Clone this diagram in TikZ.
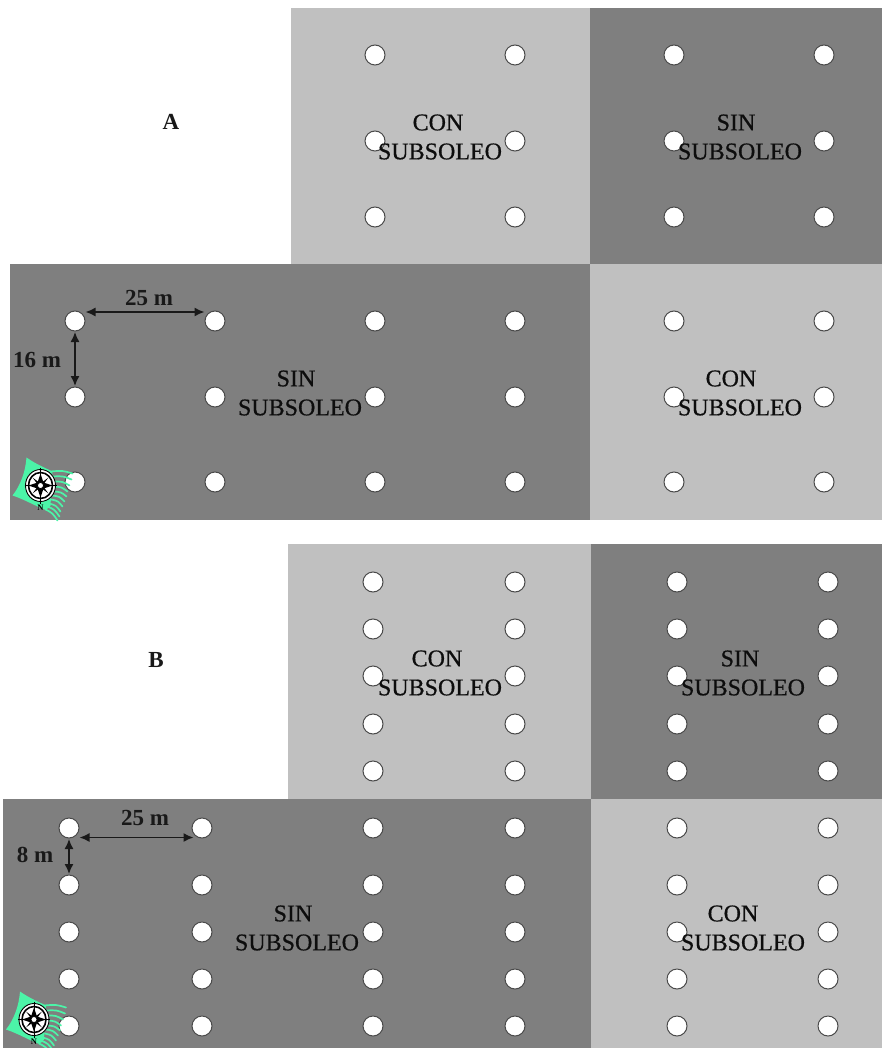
\documentclass[tikz,border=0pt]{standalone}
\usepackage{fontspec}
\setmainfont{Liberation Serif}
\newfontfamily\zonefont[FakeBold=0.6]{Liberation Serif}
\definecolor{lightzone}{HTML}{C0C0C0}
\definecolor{darkzone}{HTML}{7F7F7F}
\definecolor{fangreen}{HTML}{4CF4A8}
\definecolor{holeline}{HTML}{4A4A4A}
\usetikzlibrary{arrows.meta}
\tikzset{
  x=1pt,y=-1pt,
  hole/.style={circle,draw=holeline,line width=1pt,fill=white,minimum size=20pt,inner sep=0pt},
  zonelabel/.style={align=center,font=\fontsize{24}{29}\zonefont\selectfont,text=black!95,inner sep=0pt},
  dimlabel/.style={font=\fontsize{23}{26}\selectfont\bfseries,text=black!90,inner sep=0pt},
  dimarrow/.style={line width=1.5pt,black!90,{Latex[length=10pt,width=9pt]}-{Latex[length=10pt,width=9pt]},shorten >=0.5pt,shorten <=0.5pt},
}
\newcommand{\compassmark}[2]{%
  \begin{scope}[shift={(#1,#2)}]
    \fill[fangreen] (-14,-28) .. controls (-4,-21) and (6,-17) .. (12,-14)
      -- (10,20) .. controls (8,23) and (6,24) .. (4,24)
      .. controls (-6,20) and (-16,14) .. (-28,10)
      .. controls (-20,0) and (-15,-14) .. (-14,-28) -- cycle;
    \foreach \sx/\sy/\tx/\ty in {10/-14/32/-12, 12/-9/31/-6, 13/-4/29/0, 13/1/27/6, 13/6/26/11, 12/10/24/16, 11/14/22/21, 9/18/20/26, 7/21/19/31, 5/24/17/35}{
      \draw[fangreen,line width=1.7pt,line cap=round] (\sx,\sy) .. controls ({(\sx+\tx)/2+1},{(\sy+\ty)/2-2}) .. (\tx,\ty);
    }
    \draw[black,line width=0.9pt,fill=white] (0,0) ellipse (15pt and 16pt);
    \draw[black,line width=1.6pt,fill=white] (0,0) ellipse (12pt and 13pt);
    \fill[black] (0,-12) -- (3,-3) -- (12,0) -- (3,3) -- (0,12) -- (-3,3) -- (-12,0) -- (-3,-3) -- cycle;
    \foreach \ang in {45,135,225,315}{\fill[black] (\ang:11) -- (\ang+25:3) -- (\ang-25:3) -- cycle;}
    \draw[black,line width=0.8pt] (0,-18) -- (0,18) (-16,0) -- (16,0);
    \draw[black,line width=0.7pt,fill=white] (0,0) circle (3pt);
    \node[inner sep=0pt,font=\fontsize{8.5}{9}\selectfont\bfseries] at (0,22.5) {N};
  \end{scope}}
\begin{document}
\begin{tikzpicture}
\useasboundingbox (0,0) rectangle (882,1048);
\fill[white] (0,0) rectangle (882,1048);
% panel A zones
\fill[lightzone] (291,8) rectangle (590,264);
\fill[darkzone] (590,8) rectangle (882,264);
\fill[darkzone] (10,264) rectangle (590,520);
\fill[lightzone] (590,264) rectangle (882,520);
% panel B zones
\fill[lightzone] (288,544) rectangle (591,799);
\fill[darkzone] (591,544) rectangle (882,799);
\fill[darkzone] (3,799) rectangle (591,1048);
\fill[lightzone] (591,799) rectangle (882,1048);
% panel A holes
\foreach \x/\c in {375/c,515/d,674/e,824/f}{
  \foreach \y/\r in {55/1,141/2,217/3}{\node[hole] (a\c\r) at (\x,\y) {};}}
\foreach \x/\c in {75/a,215/b,375/c,515/d,674/e,824/f}{
  \foreach \y/\r in {321/4,397/5,482/6}{\node[hole] (a\c\r) at (\x,\y) {};}}
% panel B holes
\foreach \x/\c in {373/c,515/d,677/e,828/f}{
  \foreach \y/\r in {582/1,629/2,676/3,724/4,771/5}{\node[hole] (b\c\r) at (\x,\y) {};}}
\foreach \x/\c in {69/a,202/b,373/c,515/d,677/e,828/f}{
  \foreach \y/\r in {828/6,885/7,932/8,979/9,1026/10}{\node[hole] (b\c\r) at (\x,\y) {};}}
% compasses
\compassmark{40.5}{485.5}
\compassmark{34}{1019.5}
% zone labels
\node[zonelabel] (la1) at (440,137) {CON\hspace*{4pt}\\SUBSOLEO};
\node[zonelabel] (la2) at (740,137) {SIN\hspace*{8pt}\\SUBSOLEO};
\node[zonelabel] (la3) at (300,393) {SIN\hspace*{8pt}\\SUBSOLEO};
\node[zonelabel] (la4) at (740,393) {CON\hspace*{18pt}\\SUBSOLEO};
\node[zonelabel] (lb1) at (440,673) {CON\hspace*{6pt}\\SUBSOLEO};
\node[zonelabel] (lb2) at (743,673) {SIN\hspace*{6pt}\\SUBSOLEO};
\node[zonelabel] (lb3) at (297,928) {SIN\hspace*{8pt}\\SUBSOLEO};
\node[zonelabel] (lb4) at (743,928) {CON\hspace*{20pt}\\SUBSOLEO};
% panel letters
\node[dimlabel] (pa) at (171,122) {A};
\node[dimlabel] (pb) at (156,660) {B};
% dimensions panel A
\coordinate (ah1) at (85,312);
\coordinate (ah2) at (205,312);
\draw[dimarrow] (ah1) -- (ah2);
\draw[dimarrow] (aa4) -- (aa5);
\node[dimlabel] (d1) at (149,298) {25 m};
\node[dimlabel] (d2) at (37,360) {16 m};
% dimensions panel B
\coordinate (bh1) at (79,837.5);
\coordinate (bh2) at (194,837.5);
\draw[dimarrow] (bh1) -- (bh2);
\draw[dimarrow] (ba6) -- (ba7);
\node[dimlabel] (d3) at (145,818) {25 m};
\node[dimlabel] (d4) at (35,855) {8 m};
\end{tikzpicture}
\end{document}
